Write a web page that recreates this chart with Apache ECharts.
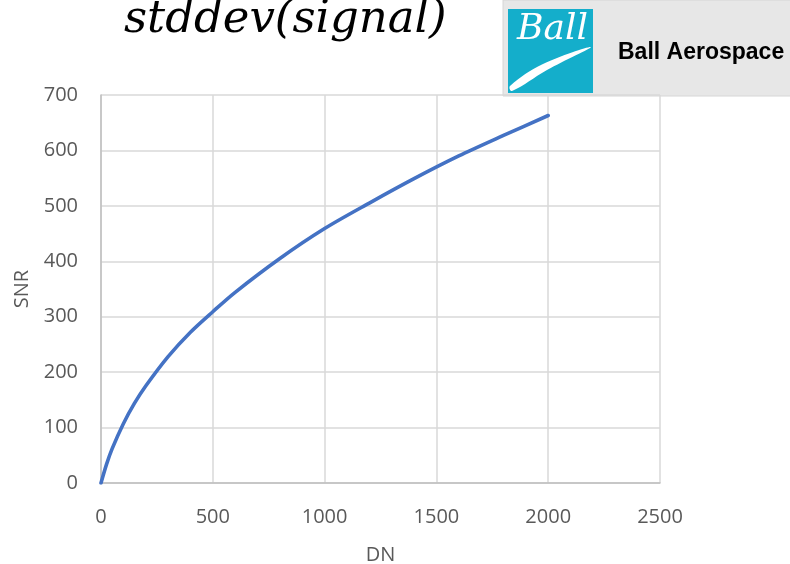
<!DOCTYPE html>
<html>
<head>
<meta charset="utf-8">
<script src="https://cdn.jsdelivr.net/npm/echarts@6/dist/echarts.min.js"></script>
<style>
  html, body { margin: 0; padding: 0; background: #ffffff; }
  #chart { width: 790px; height: 564px; }
</style>
</head>
<body>
<div id="chart"></div>
<script>
// Signal level in DN and the resulting signal-to-noise ratio
const dn  = [0, 25, 50, 100, 150, 200, 300, 400, 500, 600, 800, 1000, 1200, 1400, 1600, 1800, 2000];
const snr = [0, 34, 62, 107, 144, 175, 228, 272, 309, 344, 405, 459, 505, 549, 590, 627, 663];

const xTicks = [0, 500, 1000, 1500, 2000, 2500];
const yTicks = [0, 100, 200, 300, 400, 500, 600, 700];

const titleText = 'stddev(signal)';
const brandText = 'Ball Aerospace';
const logoText = 'Ball';

const points = dn.map((d, i) => [d, snr[i]]);

const labelFont = { color: '#595959', fontSize: 20, fontFamily: '"Open Sans", sans-serif' };
const plain = v => String(v);

const chart = echarts.init(document.getElementById('chart'), null, { renderer: 'canvas' });

chart.setOption({
  animation: false,
  backgroundColor: '#ffffff',
  grid: { left: 101, right: 130, top: 95, bottom: 81, outerBoundsMode: 'none', containLabel: false },
  xAxis: {
    type: 'value',
    min: xTicks[0],
    max: xTicks[xTicks.length - 1],
    interval: xTicks[1] - xTicks[0],
    name: 'DN',
    nameLocation: 'middle',
    nameGap: 62,
    nameTextStyle: labelFont,
    axisLine: { show: true, lineStyle: { color: '#bfbfbf', width: 1.5 } },
    axisTick: { show: false },
    axisLabel: Object.assign({ margin: 24, formatter: plain }, labelFont),
    splitLine: { show: true, lineStyle: { color: '#d9d9d9', width: 1.5 } }
  },
  yAxis: {
    type: 'value',
    min: yTicks[0],
    max: yTicks[yTicks.length - 1],
    interval: yTicks[1] - yTicks[0],
    name: 'SNR',
    nameLocation: 'middle',
    nameGap: 59,
    nameTextStyle: labelFont,
    axisLine: { show: true, lineStyle: { color: '#bfbfbf', width: 1.5 } },
    axisTick: { show: false },
    axisLabel: Object.assign({ margin: 23, formatter: plain }, labelFont),
    splitLine: { show: true, lineStyle: { color: '#d9d9d9', width: 1.5 } }
  },
  series: [{
    type: 'line',
    data: points,
    showSymbol: false,
    smooth: 0.3,
    lineStyle: { color: '#4472C4', width: 3.6, cap: 'round' },
    z: 3
  }],
  graphic: [
    {
      type: 'text',
      x: 124,
      y: -2,
      style: {
        text: titleText,
        fill: '#000000',
        font: 'italic 45px "DejaVu Serif", serif'
      },
      z: 10
    },
    {
      type: 'group',
      x: 503,
      y: 0,
      z: 20,
      children: [
        { type: 'rect', shape: { x: 0, y: 0, width: 290, height: 96 }, style: { fill: '#e7e7e7', stroke: '#d6d6d6', lineWidth: 1 } },
        { type: 'rect', shape: { x: 5, y: 9, width: 85, height: 84 }, style: { fill: '#14aecb' } },
        {
          type: 'text',
          x: 14, y: 12,
          style: { text: logoText, fill: '#ffffff', font: 'italic 36px "DejaVu Serif", serif' }
        },
        {
          type: 'polygon',
          shape: { points: [[7, 86], [40, 64], [88, 47], [44, 70], [9, 91]], smooth: 0.4 },
          style: { fill: '#ffffff' }
        },
        {
          type: 'text',
          x: 115, y: 41,
          style: { text: brandText, fill: '#000000', font: 'bold 23px "Liberation Sans", Arial, sans-serif' }
        }
      ]
    }
  ]
});
</script>
</body>
</html>
